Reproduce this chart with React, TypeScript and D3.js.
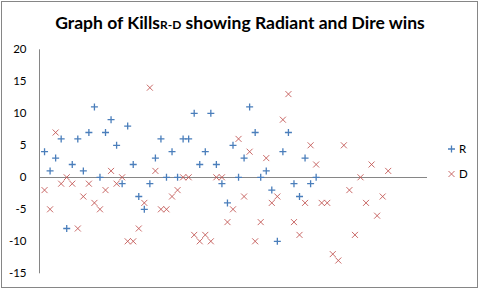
import React from "react";
import * as d3 from "d3";

const radiant: number[] = [4,1,3,6,-8,2,6,1,7,11,0,7,9,5,-1,8,2,-3,-5,-1,3,6,0,4,0,6,6,10,2,4,10,2,-1,-4,5,0,3,11,7,0,1,-2,-10,4,7,-1,-3,3,-1,0];
const dire: number[] = [-2,-5,7,-1,0,-1,-8,-3,-1,-4,-5,-2,1,-1,0,-10,-10,-8,-4,14,1,-5,-5,-3,-2,0,0,-9,-10,-9,-10,0,0,-7,-5,6,-3,4,-10,-7,3,-4,-3,9,13,-7,-9,-4,5,2,-4,-4,-12,-13,5,-2,-9,0,-4,2,-6,-3,1];
const yTicks: number[] = [-15,-10,-5,0,5,10,15,20];
const seriesNames: string[] = ["R", "D"];

const W = 481, H = 289;
const FONT = "Lato, 'Open Sans', sans-serif";

export default function App() {
  const x = d3.scaleLinear().domain([0, 70]).range([39, 427]);
  const y = d3.scaleLinear().domain([-15, 20]).range([273.3, 49.3]);
  const blue = "#4a7ebb";
  const red = "#c0504d";
  const plus = (cx: number, cy: number, k: string) => (
    <path key={k} d={`M${cx - 3.5},${cy}H${cx + 3.5}M${cx},${cy - 3.5}V${cy + 3.5}`} stroke={blue} strokeWidth={1.3} fill="none" />
  );
  const cross = (cx: number, cy: number, k: string) => (
    <path key={k} d={`M${cx - 3},${cy - 3}L${cx + 3},${cy + 3}M${cx - 3},${cy + 3}L${cx + 3},${cy - 3}`} stroke={red} strokeWidth={1} strokeOpacity={0.85} fill="none" />
  );
  return (
    <svg width={W} height={H} style={{ position: "absolute", left: 0, top: 0, background: "#fff" }} fontFamily={FONT}>
      <rect x={1.5} y={1.5} width={476} height={286} fill="#fff" stroke="#868686" strokeWidth={1} />
      <text x={240} y={28.5} textAnchor="middle" fontWeight="bold" fontSize={17.5} fill="#000">
        Graph of Kills<tspan fontSize={12}>R-D</tspan> showing Radiant and Dire wins
      </text>
      {yTicks.map((t) => (
        <text key={t} x={26.5} y={y(t)} dy="0.35em" textAnchor="end" fontSize={11.5} fill="#000">{t}</text>
      ))}
      <line x1={39.5} x2={39.5} y1={y(20)} y2={y(-15)} stroke="#868686" strokeWidth={1} />
      <line x1={39} x2={427} y1={Math.round(y(0)) + 0.5} y2={Math.round(y(0)) + 0.5} stroke="#868686" strokeWidth={1} />
      {radiant.map((v, i) => plus(x(i + 1), y(v), "r" + i))}
      {dire.map((v, i) => cross(x(i + 1), y(v), "d" + i))}
      {plus(451.5, 149, "lr")}
      <text x={459} y={149} dy="0.35em" fontSize={11.5} fill="#000">{seriesNames[0]}</text>
      {cross(451.5, 174, "ld")}
      <text x={459} y={174} dy="0.35em" fontSize={11.5} fill="#000">{seriesNames[1]}</text>
    </svg>
  );
}
